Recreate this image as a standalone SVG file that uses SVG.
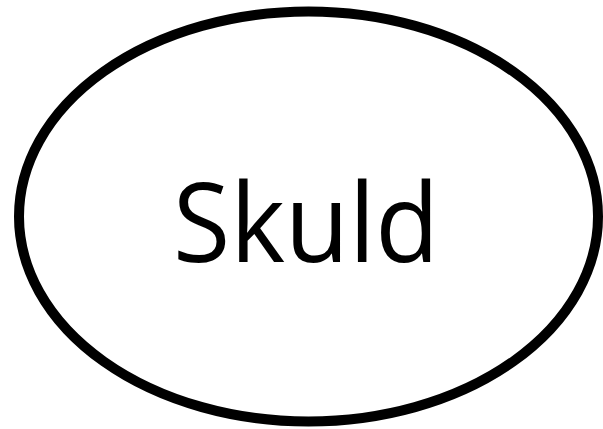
<svg xmlns="http://www.w3.org/2000/svg" width="603" height="429" viewBox="0 0 603 429">
<style>
.node-shape{fill:#ffffff;stroke:#000000;stroke-width:10}
.label{font-family:"Open Sans","Noto Sans","Liberation Sans",sans-serif;font-size:110px;fill:#000000;text-anchor:middle}
</style>
<rect width="603" height="429" fill="#ffffff"/>
<g id="connectors"></g>
<g id="skuld">
<ellipse class="node-shape" cx="308.5" cy="216.5" rx="289.5" ry="205"/>
<text class="label" x="306" y="262" textLength="266" lengthAdjust="spacingAndGlyphs">Skuld</text>
</g>
</svg>
